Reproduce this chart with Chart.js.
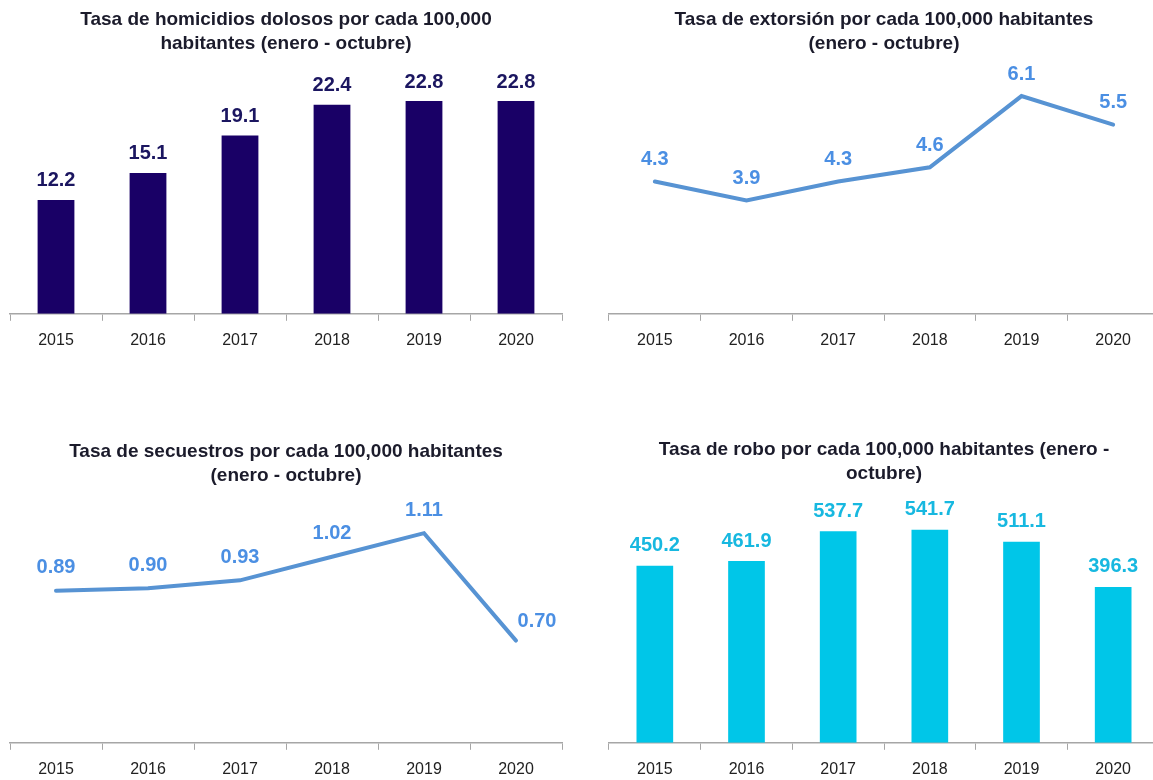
<!DOCTYPE html>
<html>
<head>
<meta charset="utf-8">
<script src="https://cdn.jsdelivr.net/npm/chart.js@4.4.1/dist/chart.umd.min.js"></script>
<style>
  body { margin: 0; background: #fff; overflow: hidden; width: 1153px; height: 780px; position: relative; }
  canvas { position: absolute; }
</style>
</head>
<body>
<canvas id="homicidios" width="576" height="360" style="left:0;top:0"></canvas>
<canvas id="extorsion" width="580" height="360" style="left:590px;top:0"></canvas>
<canvas id="secuestros" width="576" height="360" style="left:0;top:430px"></canvas>
<canvas id="robo" width="580" height="360" style="left:590px;top:430px"></canvas>
<script>
const years = ['2015', '2016', '2017', '2018', '2019', '2020'];
const homicidios = [12.2, 15.1, 19.1, 22.4, 22.8, 22.8];
const extorsion = [4.3, 3.9, 4.3, 4.6, 6.1, 5.5];
const secuestros = [0.89, 0.90, 0.93, 1.02, 1.11, 0.70];
const robo = [450.2, 461.9, 537.7, 541.7, 511.1, 396.3];

const FONT = "'Liberation Sans', Arial, sans-serif";
Chart.defaults.font.family = FONT;
Chart.defaults.animation = false;

// draws the number over each bar / point
const valueLabels = {
  id: 'valueLabels',
  afterDatasetsDraw(chart, args, opts) {
    const ctx = chart.ctx;
    const meta = chart.getDatasetMeta(0);
    const values = chart.data.datasets[0].data;
    ctx.save();
    ctx.font = 'bold 20px ' + FONT;
    ctx.fillStyle = opts.color;
    ctx.textAlign = 'center';
    ctx.textBaseline = 'middle';
    meta.data.forEach((el, i) => {
      let x = el.x, y = el.y - opts.gap;
      if (opts.lastRight && i === values.length - 1) {
        x += 21;
        y = el.y - 19;
      }
      ctx.fillText(values[i].toFixed(opts.decimals), x, y);
    });
    ctx.restore();
  }
};

function makeChart(id, type, values, o) {
  const ds = type === 'bar'
    ? { data: values, backgroundColor: o.color, barPercentage: 0.4, categoryPercentage: 1 }
    : { data: values, borderColor: o.color, borderWidth: 4, pointRadius: 0, tension: 0,
        borderCapStyle: 'round', borderJoinStyle: 'miter', fill: false };

  return new Chart(document.getElementById(id), {
    type: type,
    data: { labels: years, datasets: [ds] },
    options: {
      responsive: false,
      devicePixelRatio: 1,
      layout: { padding: { left: o.padLeft, right: o.padRight, top: 0, bottom: o.padBottom } },
      plugins: {
        legend: { display: false },
        tooltip: { enabled: false },
        title: {
          display: true,
          text: o.title,
          fullSize: false,
          color: '#1b1b2b',
          font: { size: 19, weight: 'bold', lineHeight: 24 / 19 },
          padding: { top: o.titleTop, bottom: 4 }
        },
        valueLabels: { color: o.labelColor, gap: o.gap, decimals: o.decimals, lastRight: !!o.lastRight }
      },
      scales: {
        x: {
          offset: true,
          grid: { display: true, offset: true, drawOnChartArea: false, drawTicks: true, tickLength: 7, color: '#a6a6a6', lineWidth: 1 },
          border: { display: true, color: '#a6a6a6', width: 1.5 },
          ticks: { color: '#222', font: { size: 16 }, padding: 10, maxRotation: 0 }
        },
        y: { display: false, min: o.min, max: o.max }
      }
    },
    plugins: [valueLabels]
  });
}

makeChart('homicidios', 'bar', homicidios, {
  title: ['Tasa de homicidios dolosos por cada 100,000', 'habitantes (enero - octubre)'],
  color: '#190066', labelColor: '#1b1660', gap: 19, decimals: 1,
  min: 0, max: 27.2, padLeft: 10, padRight: 14, padBottom: 0, titleTop: 8
});

makeChart('extorsion', 'line', extorsion, {
  title: ['Tasa de extorsión por cada 100,000 habitantes', '(enero - octubre)'],
  color: '#5793d3', labelColor: '#4b8fe3', gap: 22, decimals: 1,
  min: 1.515, max: 6.86, padLeft: 19, padRight: 11, padBottom: 0, titleTop: 8
});

makeChart('secuestros', 'line', secuestros, {
  title: ['Tasa de secuestros por cada 100,000 habitantes', '(enero - octubre)'],
  color: '#5793d3', labelColor: '#4b8fe3', gap: 23, decimals: 2, lastRight: true,
  min: 0.31, max: 1.267, padLeft: 10, padRight: 14, padBottom: 1, titleTop: 10
});

makeChart('robo', 'bar', robo, {
  title: ['Tasa de robo por cada 100,000 habitantes (enero -', 'octubre)'],
  color: '#00c6e8', labelColor: '#17b8e0', gap: 20, decimals: 1,
  min: 0, max: 642.6, padLeft: 19, padRight: 11, padBottom: 1, titleTop: 8
});
</script>
</body>
</html>
